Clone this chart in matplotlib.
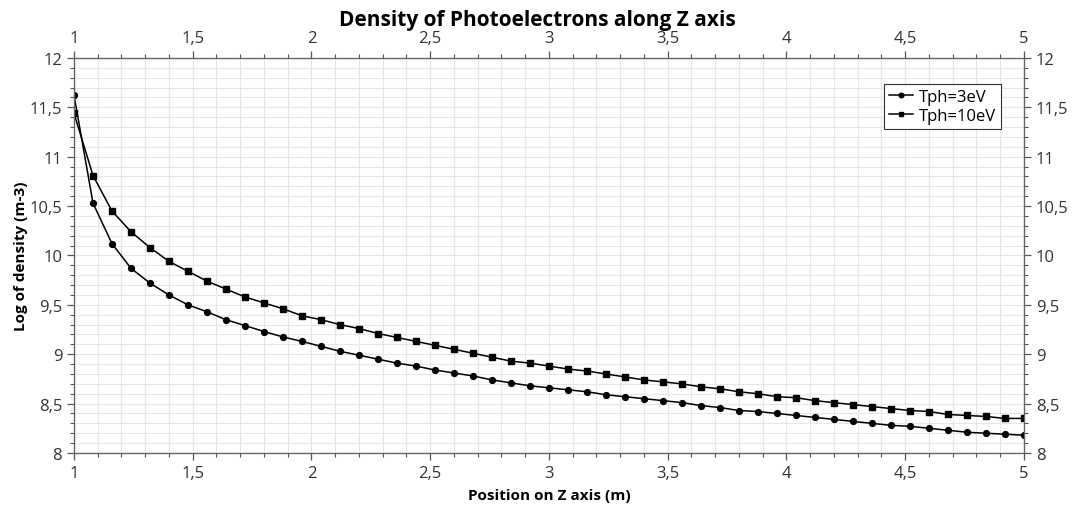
import matplotlib
matplotlib.use("Agg")
import matplotlib.pyplot as plt
from matplotlib.ticker import MultipleLocator, FuncFormatter
import numpy as np

plt.rcParams['font.family'] = ['Open Sans', 'DejaVu Sans']

# posiciones en el eje Z (m)
z = [1.00, 1.08, 1.16, 1.24, 1.32, 1.40, 1.48, 1.56, 1.64, 1.72,
     1.80, 1.88, 1.96, 2.04, 2.12, 2.20, 2.28, 2.36, 2.44, 2.52,
     2.60, 2.68, 2.76, 2.84, 2.92, 3.00, 3.08, 3.16, 3.24, 3.32,
     3.40, 3.48, 3.56, 3.64, 3.72, 3.80, 3.88, 3.96, 4.04, 4.12,
     4.20, 4.28, 4.36, 4.44, 4.52, 4.60, 4.68, 4.76, 4.84, 4.92, 5.00]

# log de densidad, Tph = 3 eV
dens_3ev = [11.625, 10.53, 10.12, 9.87, 9.72, 9.60, 9.50, 9.43, 9.35, 9.29,
            9.23, 9.175, 9.13, 9.08, 9.03, 8.99, 8.95, 8.91, 8.88, 8.84,
            8.81, 8.78, 8.74, 8.71, 8.68, 8.66, 8.64, 8.62, 8.59, 8.57,
            8.55, 8.53, 8.51, 8.48, 8.46, 8.43, 8.42, 8.40, 8.38, 8.36,
            8.34, 8.32, 8.30, 8.28, 8.27, 8.25, 8.23, 8.21, 8.20, 8.19, 8.18]

# log de densidad, Tph = 10 eV
dens_10ev = [11.44, 10.81, 10.45, 10.24, 10.08, 9.94, 9.84, 9.74, 9.66, 9.58,
             9.52, 9.46, 9.39, 9.35, 9.30, 9.26, 9.21, 9.17, 9.13, 9.09,
             9.05, 9.01, 8.97, 8.93, 8.91, 8.88, 8.85, 8.83, 8.80, 8.77,
             8.74, 8.72, 8.70, 8.67, 8.65, 8.62, 8.60, 8.57, 8.56, 8.53,
             8.51, 8.49, 8.47, 8.45, 8.43, 8.42, 8.39, 8.38, 8.37, 8.35, 8.35]

fig = plt.figure(figsize=(10.74, 5.06), dpi=100)
ax = fig.add_axes([0.0689, 0.1028, 0.8845, 0.7806])

ax.plot(z, dens_3ev, color='black', lw=1.1, marker='o', ms=4.2, label='Tph=3eV')
ax.plot(z, dens_10ev, color='black', lw=1.1, marker='s', ms=4.2, label='Tph=10eV')

ax.set_xlim(1, 5)
ax.set_ylim(8, 12)

ax.xaxis.set_major_locator(MultipleLocator(0.5))
ax.xaxis.set_minor_locator(MultipleLocator(0.1))
ax.yaxis.set_major_locator(MultipleLocator(0.5))
ax.yaxis.set_minor_locator(MultipleLocator(0.1))

coma = FuncFormatter(lambda v, p: f'{v:g}'.replace('.', ','))
ax.xaxis.set_major_formatter(coma)
ax.yaxis.set_major_formatter(coma)

ax.grid(which='both', color='#e6e6e6', lw=0.8)
ax.set_axisbelow(True)

ax.tick_params(which='both', top=True, right=True, labeltop=True, labelright=True,
               direction='out', colors='#555555', labelcolor='#333333', labelsize=12)
ax.tick_params(which='major', length=5, width=0.9)
ax.tick_params(which='minor', length=3, width=0.8)
for s in ax.spines.values():
    s.set_color('#666666')
    s.set_linewidth(1.0)

ax.set_xlabel('Position on Z axis (m)', fontsize=11, fontweight='bold', labelpad=5)
ax.set_ylabel('Log of density (m-3)', fontsize=11, fontweight='bold', labelpad=1)
fig.suptitle('Density of Photoelectrons along Z axis', fontsize=15, fontweight='bold', y=0.98)

leg = ax.legend(loc='upper right', bbox_to_anchor=(0.985, 0.955), fontsize=12,
                frameon=True, fancybox=False, edgecolor='#333333', framealpha=1,
                handlelength=1.4, handletextpad=0.4, borderpad=0.3, labelspacing=0.15,
                markerscale=0.8)
leg.get_frame().set_linewidth(0.8)

plt.savefig('out.png', dpi=100)
plt.close()
